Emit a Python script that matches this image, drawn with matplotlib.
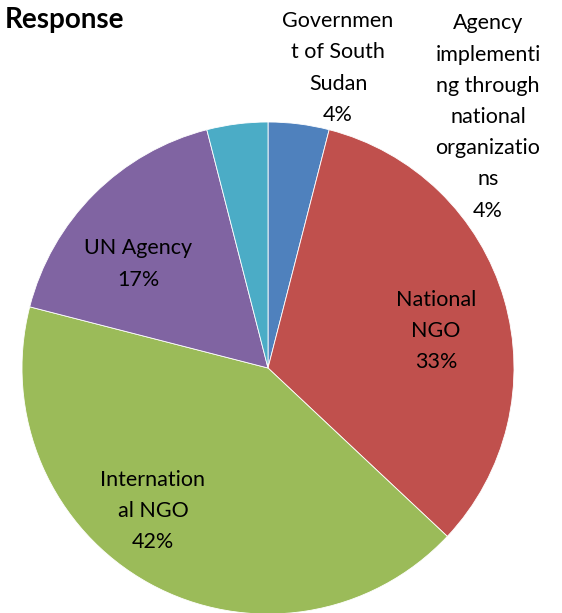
import matplotlib.pyplot as plt

# DATOS
categorias = ["Government of South Sudan", "National NGO", "International NGO",
              "UN Agency", "Agency implementing through national organizations"]
valores = [4, 33, 42, 17, 4]
etiquetas = ["Governmen\nt of South\nSudan\n4%",
             "National\nNGO\n33%",
             "Internation\nal NGO\n42%",
             "UN Agency\n17%",
             "Agency\nimplementi\nng through\nnational\norganizatio\nns\n4%"]
colores = ["#4F81BD", "#C0504D", "#9BBB59", "#8064A2", "#4BACC6"]

# posiciones de las etiquetas (pixeles, y desde arriba)
pos_etiquetas = [(338, 68), (436, 331), (153, 511), (138, 264), (488, 117)]

W, H = 562, 613
fig = plt.figure(figsize=(W / 100, H / 100), dpi=100)
ax = fig.add_axes([0, 0, 1, 1])

ax.pie(valores, colors=colores, startangle=90, counterclock=False,
       center=(268, H - 368), radius=246,
       wedgeprops=dict(edgecolor="white", linewidth=0.6))

ax.set_xlim(0, W)
ax.set_ylim(0, H)
ax.set_aspect("equal")
ax.axis("off")

for txt, (x, y) in zip(etiquetas, pos_etiquetas):
    ax.text(x, H - y, txt, ha="center", va="center", fontsize=15.5,
            family="Lato", linespacing=1.7, color="black")

ax.text(5, H - 20, "Response", ha="left", va="center", fontsize=20,
        family="Lato", fontweight="bold")

plt.savefig("out.png", dpi=100)
